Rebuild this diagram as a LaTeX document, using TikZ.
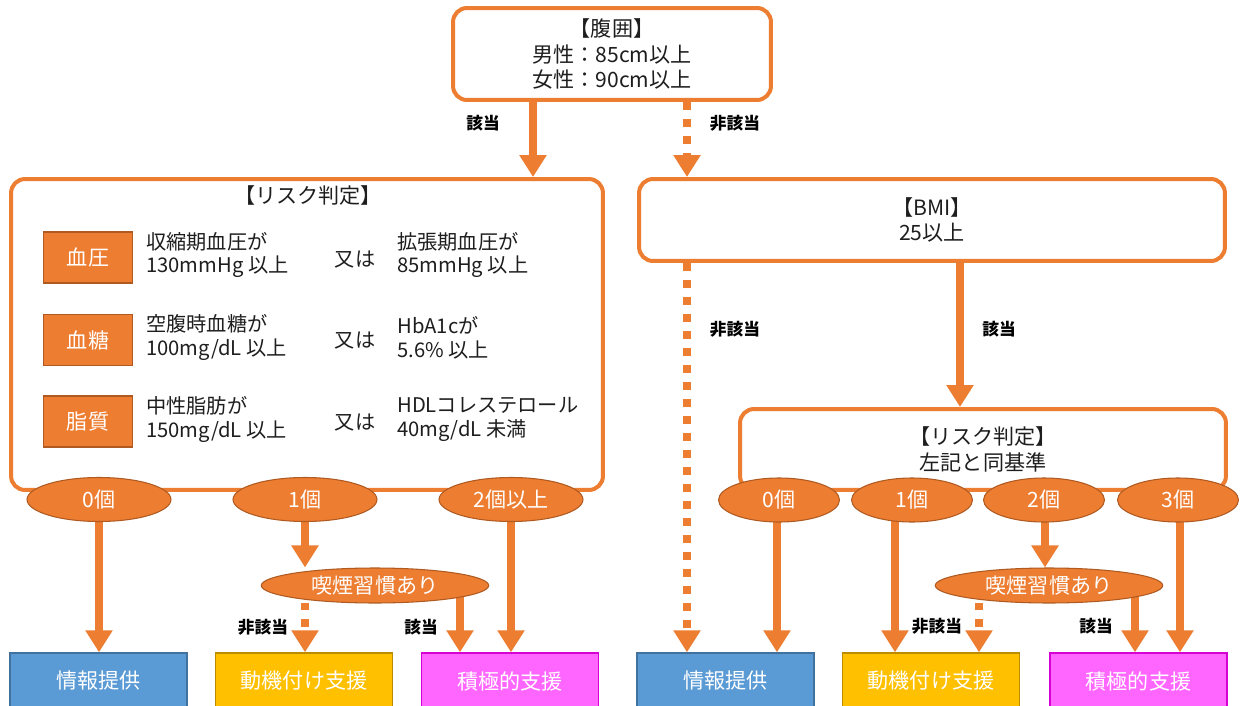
\documentclass[tikz,border=0pt]{standalone}
\usepackage{fontspec}
\setmainfont{Noto Sans CJK JP}
\usetikzlibrary{arrows.meta,positioning,shapes.geometric,backgrounds}
\definecolor{hkorange}{RGB}{237,125,49}
\definecolor{hkedge}{RGB}{174,90,33}
\definecolor{hkblue}{RGB}{91,155,213}
\definecolor{hkblueedge}{RGB}{65,113,156}
\definecolor{hkgold}{RGB}{255,192,0}
\definecolor{hkgoldedge}{RGB}{188,140,0}
\definecolor{hkpink}{RGB}{255,102,255}
\definecolor{hkpinkedge}{RGB}{214,0,214}
\definecolor{hktext}{RGB}{30,30,30}
\tikzset{
  cbox/.style={draw=hkorange, line width=0.08cm, rounded corners=0.28cm, fill=white,
               text=hktext, align=center, inner sep=0pt,
               font=\fontsize{12}{14.7}\selectfont},
  tagbox/.style={draw=hkedge, fill=hkorange, line width=0.6pt, text=white,
                 minimum width=1.78cm, minimum height=1.02cm,
                 font=\fontsize{12}{14}\selectfont},
  rtxt/.style={text=hktext, align=left, inner sep=0pt,
               font=\fontsize{11.5}{13.6}\selectfont},
  cnt/.style={ellipse, draw=hkedge, fill=hkorange, line width=0.6pt, text=white,
              inner sep=0pt, minimum width=#1, minimum height=0.88cm,
              font=\fontsize{12}{14}\selectfont},
  smoke/.style={cnt=4.55cm, minimum height=0.7cm},
  outbox/.style 2 args={draw=#2, fill=#1, line width=0.8pt, text=white,
                        minimum width=3.54cm, minimum height=1.12cm,
                        font=\fontsize{12}{14}\selectfont},
  goarr/.style={draw=hkorange, line width=0.17cm,
                -{Triangle[width=0.52cm,length=0.44cm]}},
  noarr/.style={goarr, dash pattern=on 0.16cm off 0.18cm},
  lab/.style={text=black, inner sep=0pt, font=\fontsize{9.5}{11}\selectfont\bfseries},
}
\begin{document}
\begin{tikzpicture}[x=0.02cm, y=-0.02cm]
\useasboundingbox (0,0) rectangle (1241,706);

% Waist check
\node[cbox, minimum width=6.36cm, minimum height=1.84cm] (waist) at (612,54)
     {【腹囲】\\男性：85cm以上\\女性：90cm以上};

% Left: risk check
\node[cbox, minimum width=11.84cm, minimum height=6.22cm] (riskL) at (307,334.5) {};
\node[rtxt, font=\fontsize{12}{14}\selectfont] (riskLtitle) at (308,195) {【リスク判定】};

\node[tagbox] (bp) at (88,257.5) {血圧};
\node[rtxt, anchor=west] (bp1) at (146,255) {収縮期血圧が\\130mmHg 以上};
\node[rtxt] (bpor) at (355,260) {又は};
\node[rtxt, anchor=west] (bp2) at (397,255) {拡張期血圧が\\85mmHg 以上};

\node[tagbox] (bs) at (88,340) {血糖};
\node[rtxt, anchor=west] (bs1) at (146,337.5) {空腹時血糖が\\100mg/dL 以上};
\node[rtxt] (bsor) at (355,341) {又は};
\node[rtxt, anchor=west] (bs2) at (397,337.5) {HbA1cが\\5.6\% 以上};

\node[tagbox] (lp) at (88,421.5) {脂質};
\node[rtxt, anchor=west] (lp1) at (146,419.5) {中性脂肪が\\150mg/dL 以上};
\node[rtxt] (lpor) at (355,423) {又は};
\node[rtxt, anchor=west] (lp2) at (397,419.5) {HDLコレステロール\\40mg/dL 未満};

\node[cnt=2.88cm] (n0L) at (99,499.5) {0個};
\node[cnt=2.88cm] (n1L) at (305,499.5) {1個};
\node[cnt=2.88cm] (n2L) at (511,499.5) {2個以上};
\node[smoke] (smokeL) at (375,585.5) {喫煙習慣あり};

\node[outbox={hkblue}{hkblueedge}] (infoL) at (98.5,681) {情報提供};
\node[outbox={hkgold}{hkgoldedge}] (motiL) at (304,681) {動機付け支援};
\node[outbox={hkpink}{hkpinkedge}] (actL) at (510,681) {積極的支援};

% Right: BMI and risk check
\node[cbox, minimum width=11.72cm, minimum height=1.64cm] (bmi) at (932,220)
     {【BMI】\\25以上};
\node[cbox, minimum width=9.72cm, minimum height=1.62cm] (riskR) at (983,449.5)
     {【リスク判定】\\左記と同基準};

\node[cnt=2.42cm] (n0R) at (779,500) {0個};
\node[cnt=2.42cm] (n1R) at (912,500) {1個};
\node[cnt=2.42cm] (n2R) at (1044,500) {2個};
\node[cnt=2.42cm] (n3R) at (1178,500) {3個};
\node[smoke] (smokeR) at (1049,585.5) {喫煙習慣あり};

\node[outbox={hkblue}{hkblueedge}] (infoR) at (725.5,681) {情報提供};
\node[outbox={hkgold}{hkgoldedge}] (motiR) at (931,681) {動機付け支援};
\node[outbox={hkpink}{hkpinkedge}] (actR) at (1138.5,681) {積極的支援};

% Connectors
\begin{scope}[on background layer]
\draw[goarr] (533,0 |- waist.south) -- (533,0 |- riskL.north);
\draw[noarr] (687,0 |- waist.south) -- (687,0 |- bmi.north);
\draw[noarr] (687,0 |- bmi.south) -- (687,0 |- infoR.north);
\draw[goarr] (960,0 |- bmi.south) -- (960,0 |- riskR.north);

\draw[goarr] (99,0 |- n0L.center) -- (99,0 |- infoL.north);
\draw[goarr] (305,0 |- n1L.center) -- (305,0 |- smokeL.north);
\draw[noarr] (305,0 |- smokeL.center) -- (305,0 |- motiL.north);
\draw[goarr] (460,0 |- smokeL.center) -- (460,0 |- actL.north);
\draw[goarr] (511,0 |- n2L.center) -- (511,0 |- actL.north);

\draw[goarr] (777,0 |- n0R.center) -- (777,0 |- infoR.north);
\draw[goarr] (895,0 |- n1R.center) -- (895,0 |- motiR.north);
\draw[goarr] (1045,0 |- n2R.center) -- (1045,0 |- smokeR.north);
\draw[noarr] (979,0 |- smokeR.center) -- (979,0 |- motiR.north);
\draw[goarr] (1135,0 |- smokeR.center) -- (1135,0 |- actR.north);
\draw[goarr] (1180,0 |- n3R.center) -- (1180,0 |- actR.north);
\end{scope}

% Branch labels
\node[lab] (yes1) at (483,123) {該当};
\node[lab] (no1) at (735,123) {非該当};
\node[lab] (no2) at (735,329) {非該当};
\node[lab] (yes2) at (999,329) {該当};
\node[lab] (no3) at (263,627) {非該当};
\node[lab] (yes3) at (421,627) {該当};
\node[lab] (no4) at (937,626) {非該当};
\node[lab] (yes4) at (1096,626) {該当};

\end{tikzpicture}
\end{document}
